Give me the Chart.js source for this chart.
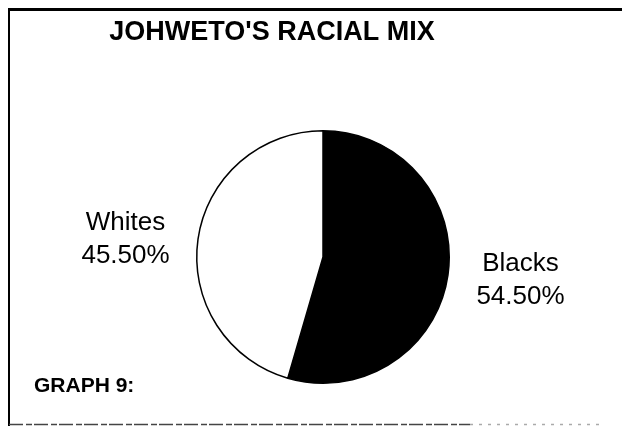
<!DOCTYPE html>
<html>
<head>
<meta charset="utf-8">
<script src="https://cdn.jsdelivr.net/npm/chart.js@4/dist/chart.umd.min.js"></script>
<style>
  html, body { margin: 0; padding: 0; background: #fff; }
  #wrap { width: 622px; height: 428px; position: relative; }
</style>
</head>
<body>
<div id="wrap"><canvas id="c" width="622" height="428"></canvas></div>
<script>
const chartTitle = "JOHWETO'S RACIAL MIX";
const footnote = "GRAPH 9:";
const categories = ["Blacks", "Whites"];
const shares = [54.5, 45.5];
const valueLabels = ["54.50%", "45.50%"];
const sliceColors = ["#000000", "#ffffff"];

const decor = {
  id: 'decor',
  beforeDraw(chart) {
    const ctx = chart.ctx;
    ctx.save();
    ctx.fillStyle = '#fff';
    ctx.fillRect(0, 0, chart.width, chart.height);
    ctx.strokeStyle = '#000';
    ctx.lineWidth = 3;
    ctx.beginPath(); ctx.moveTo(8, 9.5); ctx.lineTo(622, 9.5); ctx.stroke();
    ctx.lineWidth = 2;
    ctx.beginPath(); ctx.moveTo(9, 10); ctx.lineTo(9, 426); ctx.stroke();
    ctx.lineWidth = 1.5;
    ctx.strokeStyle = '#444';
    ctx.setLineDash([14, 3, 6, 2]);
    ctx.beginPath(); ctx.moveTo(9, 424.5); ctx.lineTo(470, 424.5); ctx.stroke();
    ctx.strokeStyle = '#aaa';
    ctx.setLineDash([3, 6]);
    ctx.beginPath(); ctx.moveTo(470, 424.5); ctx.lineTo(600, 424.5); ctx.stroke();
    ctx.restore();
  },
  afterDraw(chart) {
    const ctx = chart.ctx;
    ctx.save();
    ctx.fillStyle = '#000';
    ctx.textAlign = 'center';
    ctx.textBaseline = 'middle';
    ctx.font = 'bold 27px "Liberation Sans", Arial, sans-serif';
    ctx.fillText(chartTitle, 272, 33);
    ctx.textAlign = 'left';
    ctx.font = 'bold 21px "Liberation Sans", Arial, sans-serif';
    ctx.fillText(footnote, 34, 386);
    ctx.textAlign = 'center';
    ctx.font = '26px "Liberation Sans", Arial, sans-serif';
    const meta = chart.getDatasetMeta(0);
    meta.data.forEach((arc, i) => {
      const p = arc.getProps(['x', 'y', 'startAngle', 'endAngle', 'outerRadius'], true);
      const mid = (p.startAngle + p.endAngle) / 2;
      const d = p.outerRadius * 1.58;
      const lx = p.x + Math.cos(mid) * d;
      const ly = p.y + Math.sin(mid) * d * 0.73 + 2;
      ctx.fillText(categories[i], lx, ly - 16);
      ctx.fillText(valueLabels[i], lx, ly + 17);
    });
    ctx.restore();
  }
};

new Chart(document.getElementById('c'), {
  type: 'pie',
  data: {
    labels: categories,
    datasets: [{
      data: shares,
      backgroundColor: sliceColors,
      borderColor: '#000',
      borderWidth: 1.5
    }]
  },
  options: {
    responsive: false,
    animation: false,
    layout: { padding: { left: 196, right: 172, top: 130, bottom: 44 } },
    plugins: {
      legend: { display: false },
      tooltip: { enabled: false },
      title: { display: false }
    }
  },
  plugins: [decor]
});
</script>
</body>
</html>
